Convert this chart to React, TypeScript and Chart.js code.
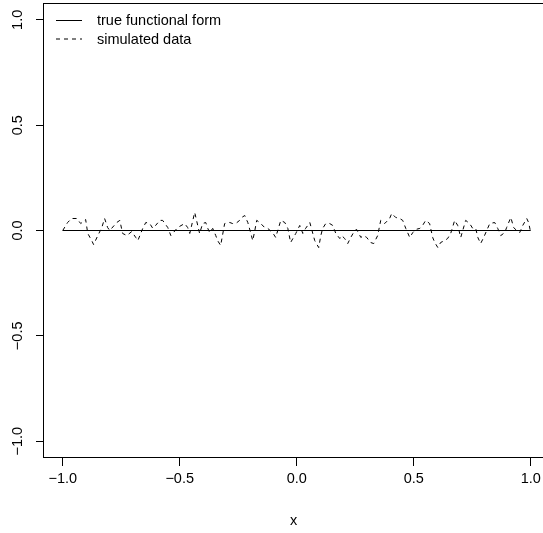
import React, { useEffect, useRef } from "react";
import { Chart, registerables } from "chart.js";

Chart.register(...registerables);

// ---- data ----
const xTicks = [-1, -0.5, 0, 0.5, 1];
const yTicks = [-1, -0.5, 0, 0.5, 1];
const seriesLabels = ["true functional form", "simulated data"];
const xTitle = "x";

const trueX = [-1, 1];
const trueY = [0, 0];

const simX = [
  -1.0, -0.979, -0.962, -0.94, -0.923, -0.902, -0.893, -0.876, -0.868, -0.85,
  -0.833, -0.821, -0.808, -0.799, -0.769, -0.756, -0.744, -0.726, -0.705, -0.688,
  -0.679, -0.658, -0.645, -0.628, -0.615, -0.603, -0.585, -0.573, -0.551, -0.538,
  -0.53, -0.509, -0.479, -0.466, -0.457, -0.444, -0.436, -0.423, -0.415, -0.402,
  -0.389, -0.38, -0.372, -0.359, -0.346, -0.338, -0.325, -0.308, -0.286, -0.274,
  -0.261, -0.244, -0.235, -0.222, -0.209, -0.197, -0.188, -0.179, -0.171, -0.158,
  -0.137, -0.124, -0.103, -0.09, -0.068, -0.051, -0.038, -0.026, -0.004, 0.013,
  0.026, 0.038, 0.056, 0.077, 0.094, 0.103, 0.111, 0.124, 0.141, 0.154,
  0.167, 0.184, 0.192, 0.205, 0.218, 0.231, 0.248, 0.256, 0.274, 0.286,
  0.299, 0.316, 0.329, 0.346, 0.359, 0.376, 0.397, 0.406, 0.423, 0.44,
  0.453, 0.466, 0.483, 0.496, 0.509, 0.526, 0.538, 0.551, 0.568, 0.581,
  0.59, 0.603, 0.615, 0.632, 0.645, 0.658, 0.675, 0.688, 0.701, 0.722,
  0.739, 0.752, 0.765, 0.774, 0.786, 0.799, 0.812, 0.825, 0.846, 0.859,
  0.872, 0.889, 0.897, 0.915, 0.927, 0.94, 0.953, 0.966, 0.983, 0.991,
  1.0,
];
const simY = [
  0.0, 0.038, 0.057, 0.057, 0.033, 0.052, -0.014, -0.048, -0.067, -0.024,
  0.014, 0.057, 0.014, 0.0, 0.038, 0.048, -0.014, -0.024, -0.005, -0.033,
  -0.048, 0.01, 0.038, 0.033, 0.01, 0.024, 0.048, 0.048, 0.014, -0.024,
  -0.014, 0.014, 0.033, 0.014, -0.014, 0.048, 0.086, 0.024, -0.014, 0.033,
  0.038, 0.01, -0.01, 0.01, -0.024, -0.048, -0.071, 0.033, 0.038, 0.033,
  0.033, 0.048, 0.062, 0.071, 0.038, -0.01, -0.048, 0.0, 0.048, 0.038,
  0.014, 0.01, -0.01, -0.033, 0.048, 0.038, 0.01, -0.057, -0.014, 0.024,
  -0.014, 0.01, 0.038, -0.048, -0.081, -0.024, 0.01, 0.033, 0.033, 0.024,
  -0.014, -0.038, -0.024, -0.038, -0.062, -0.033, 0.0, 0.005, -0.033, -0.024,
  -0.033, -0.057, -0.062, -0.024, 0.048, 0.033, 0.057, 0.081, 0.062, 0.057,
  0.048, 0.01, -0.033, -0.01, 0.005, 0.01, 0.024, 0.048, 0.033, -0.033,
  -0.057, -0.081, -0.057, -0.048, -0.038, -0.014, 0.048, 0.024, -0.033, 0.048,
  0.033, 0.01, 0.01, -0.033, -0.062, -0.033, 0.0, 0.033, 0.038, 0.01,
  -0.024, -0.01, 0.014, 0.062, 0.014, 0.0, -0.01, 0.024, 0.057, 0.038,
  -0.01,
];

const FONT = '"Liberation Sans", Arial, Helvetica, sans-serif';
const FS = 14.5;
const fmt = (v: number) => (v < 0 ? "\u2212" : "") + Math.abs(v).toFixed(1);

const boxPlugin = {
  id: "rbox",
  afterDraw(chart: any) {
    const { ctx, chartArea: a } = chart;
    ctx.save();
    ctx.strokeStyle = "#000";
    ctx.lineWidth = 1;
    ctx.setLineDash([]);
    const t = Math.round(a.top) + 0.5;
    const b = Math.round(a.bottom) - 0.5;
    ctx.strokeRect(Math.round(a.left) - 0.5, t, a.right - a.left + 20, b - t);
    // legend (top-left, no frame)
    ctx.font = `${FS}px ${FONT}`;
    ctx.fillStyle = "#000";
    ctx.textBaseline = "middle";
    ctx.textAlign = "left";
    chart.data.datasets.forEach((ds: any, i: number) => {
      const y = Math.round(a.top) + 17.5 + i * 18.5;
      ctx.setLineDash(ds.borderDash || []);
      ctx.beginPath();
      ctx.moveTo(a.left + 12, y);
      ctx.lineTo(a.left + 38, y);
      ctx.stroke();
      ctx.setLineDash([]);
      ctx.fillText(ds.label, a.left + 53, y + 0.5);
    });
    ctx.restore();
  },
};

export default function App() {
  const ref = useRef<HTMLCanvasElement>(null);
  useEffect(() => {
    if (!ref.current) return;
    const font = { family: FONT, size: FS, lineHeight: 1.2 };
    const grid = {
      display: true,
      drawOnChartArea: false,
      drawTicks: true,
      tickLength: 8,
      color: "#000",
      lineWidth: 1,
    };
    const chart = new Chart(ref.current, {
      type: "scatter",
      data: {
        datasets: [
          {
            label: seriesLabels[0],
            data: trueX.map((x, i) => ({ x, y: trueY[i] })),
            showLine: true,
            borderColor: "#000",
            borderWidth: 1,
            pointRadius: 0,
            fill: false,
          },
          {
            label: seriesLabels[1],
            data: simX.map((x, i) => ({ x, y: simY[i] })),
            showLine: true,
            borderColor: "#000",
            borderWidth: 1,
            borderDash: [4, 4],
            pointRadius: 0,
            fill: false,
          },
        ],
      },
      options: {
        responsive: false,
        animation: false,
        layout: { padding: { top: 3, left: 0, right: 0, bottom: 0 } },
        plugins: {
          legend: { display: false },
          tooltip: { enabled: false },
          title: { display: false },
        },
        scales: {
          x: {
            type: "linear",
            min: -1.08,
            max: 1.0525,
            afterBuildTicks: (s: any) => {
              s.ticks = xTicks.map((v) => ({ value: v }));
            },
            afterFit: (s: any) => {
              s.height = 75;
              s.paddingLeft = 0;
              s.paddingRight = 0;
            },
            ticks: {
              callback: (v: any) => fmt(Number(v)),
              font,
              color: "#000",
              padding: 4,
              minRotation: 0,
              maxRotation: 0,
              autoSkip: false,
            },
            grid,
            border: { display: false },
            title: {
              display: true,
              text: xTitle,
              font,
              color: "#000",
              padding: { top: 0, bottom: 3 },
            },
          },
          y: {
            type: "linear",
            min: -1.08,
            max: 1.08,
            afterBuildTicks: (s: any) => {
              s.ticks = yTicks.map((v) => ({ value: v }));
            },
            afterFit: (s: any) => {
              s.width = 44;
              s.paddingTop = 0;
              s.paddingBottom = 0;
            },
            ticks: {
              callback: (v: any) => fmt(Number(v)),
              font,
              color: "#000",
              padding: 4,
              minRotation: 90,
              maxRotation: 90,
              crossAlign: "center",
              autoSkip: false,
            },
            grid,
            border: { display: false },
          },
        },
      },
      plugins: [boxPlugin],
    } as any);
    return () => chart.destroy();
  }, []);
  return (
    <div style={{ position: "fixed", left: 0, top: 0, width: 543, height: 533, background: "#fff" }}>
      <canvas ref={ref} width={543} height={533} style={{ display: "block" }} />
    </div>
  );
}
